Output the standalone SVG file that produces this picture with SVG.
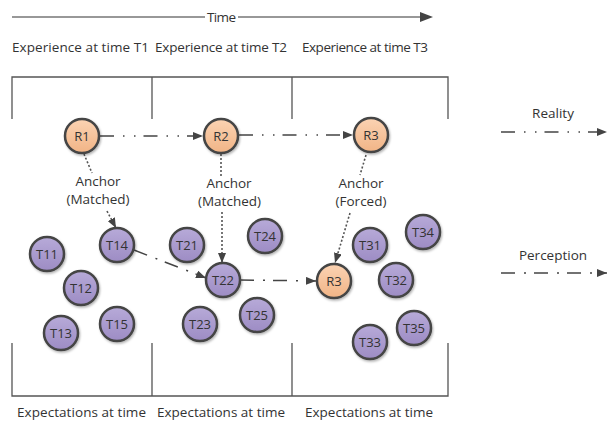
<svg xmlns="http://www.w3.org/2000/svg" width="607" height="421" viewBox="0 0 607 421">
  <style>
    text { font-family: "Open Sans", "Noto Sans", "DejaVu Sans", sans-serif; fill: #333; }
    .lbl { font-size: 13.5px; }
    .nd { font-size: 13px; text-anchor: middle; dominant-baseline: central; }
    .frame { fill: none; stroke: #555; stroke-width: 1.3; }
    .rn { fill: url(#gR); stroke: #444; stroke-width: 2.5; filter: url(#sh); }
    .tn { fill: url(#gT); stroke: #444; stroke-width: 2.5; filter: url(#sh); }
    .real { fill: none; stroke: #444; stroke-width: 1.5; stroke-dasharray: 14 9 1.5 9.5 1.5 8; }
    .perc { fill: none; stroke: #444; stroke-width: 1.5; stroke-dasharray: 14 9 2 8; }
    .anc { fill: none; stroke: #555; stroke-width: 1.6; stroke-dasharray: 2 2; }
  </style>
  <defs>
    <linearGradient id="gR" x1="0" y1="0" x2="0" y2="1">
      <stop offset="0" stop-color="#fbd3b3"/>
      <stop offset="1" stop-color="#f1b486"/>
    </linearGradient>
    <linearGradient id="gT" x1="0" y1="0" x2="0" y2="1">
      <stop offset="0" stop-color="#b7aad8"/>
      <stop offset="1" stop-color="#9d8cc4"/>
    </linearGradient>
    <filter id="sh" x="-30%" y="-30%" width="160%" height="160%">
      <feDropShadow dx="1" dy="1.5" stdDeviation="1.2" flood-color="#000" flood-opacity="0.3"/>
    </filter>
    <marker id="ah" markerWidth="10" markerHeight="8" refX="10" refY="4" orient="auto" markerUnits="userSpaceOnUse">
      <path d="M0,0 L10,4 L0,8 Z" fill="#444"/>
    </marker>
  </defs>

  <!-- time axis -->
  <g id="time-axis">
    <line x1="12" y1="17" x2="205" y2="17" stroke="#333" stroke-width="1.2"/>
    <line x1="238" y1="17" x2="422" y2="17" stroke="#333" stroke-width="1.2"/>
    <path d="M420,12 L433,17 L420,22 Z" fill="#444"/>
    <text class="lbl" x="207" y="22" textLength="29">Time</text>
  </g>

  <!-- column headings -->
  <g id="headings">
    <text class="lbl" x="12" y="52" textLength="137">Experience at time T1</text>
    <text class="lbl" x="155" y="52" textLength="132">Experience at time T2</text>
    <text class="lbl" x="302" y="52" textLength="126">Experience at time T3</text>
    <text class="lbl" x="17" y="417" textLength="129">Expectations at time</text>
    <text class="lbl" x="157" y="417" textLength="128">Expectations at time</text>
    <text class="lbl" x="305" y="417" textLength="128">Expectations at time</text>
  </g>

  <!-- column frame -->
  <g id="frame">
    <path class="frame" d="M12,119 V77 H448 V119 M152,77 V119 M292,77 V119"/>
    <path class="frame" d="M12,343 V396 H448 V343 M152,343 V396 M292,343 V396"/>
  </g>

  <!-- connectors -->
  <g id="connectors">
    <line class="real" x1="100" y1="136" x2="203" y2="136" marker-end="url(#ah)"/>
    <line class="real" x1="239" y1="135" x2="353" y2="135" marker-end="url(#ah)"/>
    <line class="perc" x1="134" y1="250" x2="206" y2="278" marker-end="url(#ah)"/>
    <line class="perc" x1="240" y1="280" x2="316" y2="281" marker-end="url(#ah)"/>
    <line class="anc" x1="84" y1="154" x2="92" y2="173"/>
    <line class="anc" x1="107" y1="211" x2="116" y2="228" marker-end="url(#ah)"/>
    <line class="anc" x1="221" y1="154" x2="221" y2="176"/>
    <line class="anc" x1="222" y1="212" x2="222" y2="263" marker-end="url(#ah)"/>
    <line class="anc" x1="366" y1="155" x2="360" y2="175"/>
    <line class="anc" x1="350" y1="213" x2="335" y2="263" marker-end="url(#ah)"/>
    <text class="lbl" x="98" y="185.5" text-anchor="middle">Anchor</text>
    <text class="lbl" x="98" y="204" text-anchor="middle">(Matched)</text>
    <text class="lbl" x="229" y="187.5" text-anchor="middle">Anchor</text>
    <text class="lbl" x="229.5" y="206" text-anchor="middle">(Matched)</text>
    <text class="lbl" x="361" y="187.5" text-anchor="middle">Anchor</text>
    <text class="lbl" x="361" y="206" text-anchor="middle">(Forced)</text>
  </g>

  <!-- legend -->
  <g id="legend">
    <text class="lbl" x="553" y="117.5" text-anchor="middle">Reality</text>
    <line class="real" x1="501" y1="132" x2="607" y2="132" marker-end="url(#ah)"/>
    <text class="lbl" x="553" y="259.5" text-anchor="middle">Perception</text>
    <line class="perc" x1="501" y1="273" x2="607" y2="273" marker-end="url(#ah)"/>
  </g>

  <!-- reality nodes -->
  <g id="R1"><circle class="rn" cx="82" cy="136" r="17"/><text class="nd" x="82" y="136">R1</text></g>
  <g id="R2"><circle class="rn" cx="221" cy="136" r="17"/><text class="nd" x="221" y="136">R2</text></g>
  <g id="R3-top"><circle class="rn" cx="371" cy="135" r="17"/><text class="nd" x="371" y="135">R3</text></g>
  <g id="R3-anchored"><circle class="rn" cx="334" cy="281" r="17"/><text class="nd" x="334" y="281">R3</text></g>

  <!-- expectation nodes, T1 -->
  <g id="T11"><circle class="tn" cx="47" cy="254" r="17"/><text class="nd" x="47" y="254">T11</text></g>
  <g id="T12"><circle class="tn" cx="81" cy="288" r="17"/><text class="nd" x="81" y="288">T12</text></g>
  <g id="T13"><circle class="tn" cx="61" cy="333" r="17"/><text class="nd" x="61" y="333">T13</text></g>
  <g id="T14"><circle class="tn" cx="117" cy="245" r="17"/><text class="nd" x="117" y="245">T14</text></g>
  <g id="T15"><circle class="tn" cx="117" cy="324" r="17"/><text class="nd" x="117" y="324">T15</text></g>

  <!-- expectation nodes, T2 -->
  <g id="T21"><circle class="tn" cx="187" cy="245" r="17"/><text class="nd" x="187" y="245">T21</text></g>
  <g id="T22"><circle class="tn" cx="223" cy="280" r="17"/><text class="nd" x="223" y="280">T22</text></g>
  <g id="T23"><circle class="tn" cx="200" cy="324" r="17"/><text class="nd" x="200" y="324">T23</text></g>
  <g id="T24"><circle class="tn" cx="265" cy="236" r="17"/><text class="nd" x="265" y="236">T24</text></g>
  <g id="T25"><circle class="tn" cx="257" cy="315" r="17"/><text class="nd" x="257" y="315">T25</text></g>

  <!-- expectation nodes, T3 -->
  <g id="T31"><circle class="tn" cx="370" cy="245" r="17"/><text class="nd" x="370" y="245">T31</text></g>
  <g id="T32"><circle class="tn" cx="396" cy="280" r="17"/><text class="nd" x="396" y="280">T32</text></g>
  <g id="T33"><circle class="tn" cx="370" cy="342" r="17"/><text class="nd" x="370" y="342">T33</text></g>
  <g id="T34"><circle class="tn" cx="423" cy="232" r="17"/><text class="nd" x="423" y="232">T34</text></g>
  <g id="T35"><circle class="tn" cx="414" cy="328" r="17"/><text class="nd" x="414" y="328">T35</text></g>
</svg>
